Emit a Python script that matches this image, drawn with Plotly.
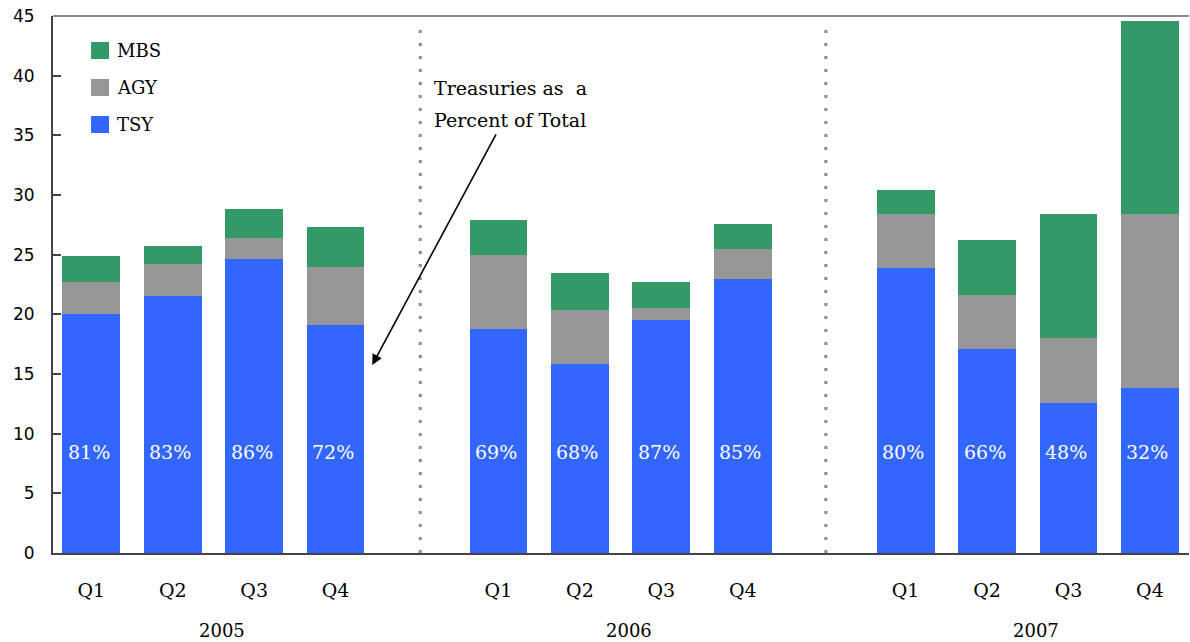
import plotly.graph_objects as go

# Quarterly purchases by security type, stacked (TSY at the bottom)
years = ["2005", "2006", "2007"]
quarters = ["Q1", "Q2", "Q3", "Q4"]
tsy = [20.0, 21.5, 24.6, 19.1, 18.75, 15.85, 19.5, 23.0, 23.9, 17.1, 12.55, 13.8]
agy = [2.75, 2.7, 1.8, 4.9, 6.25, 4.55, 1.05, 2.5, 4.55, 4.5, 5.45, 14.65]
mbs = [2.15, 1.5, 2.4, 3.3, 2.9, 3.1, 2.2, 2.05, 2.0, 4.6, 10.45, 16.1]
tsy_share = ["81%", "83%", "86%", "72%", "69%", "68%", "87%", "85%",
             "80%", "66%", "48%", "32%"]
series_names = ["TSY", "AGY", "MBS"]
series_colors = ["#3366FF", "#969696", "#339966"]
y_ticks = [0, 5, 10, 15, 20, 25, 30, 35, 40, 45]

SERIF = "DejaVu Serif"
SANS = "DejaVu Sans"

# each year occupies five slots: four quarters plus an empty spacer
slots = [yi * 5 + qi for yi in range(len(years)) for qi in range(len(quarters))]
tick_labels = [q for _ in years for q in quarters]

fig = go.Figure()
for name, vals, color in zip(series_names, [tsy, agy, mbs], series_colors):
    fig.add_trace(go.Bar(
        x=slots, y=vals, name=name, width=0.71,
        marker=dict(color=color, line=dict(width=0)),
        showlegend=False, hoverinfo="y+name",
    ))

# share labels inside the TSY bars
for s, txt in zip(slots, tsy_share):
    fig.add_annotation(x=s - 0.03, y=8.5, xref="x", yref="y", text=txt,
                       showarrow=False, font=dict(family=SERIF, size=19, color="white"))

# year labels under each group
for yi, yr in enumerate(years):
    fig.add_annotation(x=yi * 5 + 1.6, y=-0.1434, xref="x", yref="paper", text=yr,
                       showarrow=False, yanchor="middle",
                       font=dict(family=SERIF, size=18, color="black"))

# dotted separators between years
for sx in [4.04, 9.02]:
    fig.add_shape(type="line", xref="x", yref="paper", x0=sx, x1=sx, y0=0, y1=0.99,
                  line=dict(color="#8c8c8c", width=3, dash="3px,10px"))

# frame: top and right edges
fig.add_shape(type="line", xref="paper", yref="paper", x0=0, x1=1, y0=1, y1=1,
              line=dict(color="#8a8a8a", width=2))
fig.add_shape(type="line", xref="paper", yref="paper", x0=1, x1=1, y0=0, y1=1,
              line=dict(color="#e4e4e4", width=1))

# legend (MBS on top)
leg_y = [(0.9516, 0.9199), (0.8827, 0.8510), (0.8138, 0.7821)]
for (y1, y0), name, color in zip(leg_y, series_names[::-1], series_colors[::-1]):
    fig.add_shape(type="rect", xref="paper", yref="paper", x0=0.0335, x1=0.0493,
                  y0=y0, y1=y1, fillcolor=color, line=dict(width=0))
    fig.add_annotation(x=0.0546, y=(y0 + y1) / 2, xref="paper", yref="paper",
                       text=name, showarrow=False, xanchor="left", yanchor="middle",
                       font=dict(family=SERIF, size=18, color="black"))

# callout with arrow to the 2005 Q4 bar
fig.add_annotation(x=4.19, y=38.98, xref="x", yref="y", text="Treasuries as&nbsp;&nbsp;a",
                   showarrow=False, xanchor="left", yanchor="middle",
                   font=dict(family=SERIF, size=19, color="black"))
fig.add_annotation(x=4.19, y=36.3, xref="x", yref="y", text="Percent of Total",
                   showarrow=False, xanchor="left", yanchor="middle",
                   font=dict(family=SERIF, size=19, color="black"))
fig.add_annotation(x=3.45, y=15.76, xref="x", yref="y", ax=4.98, ay=35.2,
                   axref="x", ayref="y", text="", showarrow=True,
                   arrowhead=2, arrowsize=1.3, arrowwidth=1.6, arrowcolor="black")

fig.update_layout(
    barmode="stack",
    width=1190, height=642,
    margin=dict(l=53, r=1, t=16, b=89),
    paper_bgcolor="white", plot_bgcolor="white",
    xaxis=dict(
        range=[-0.47, 13.48], tickvals=slots, ticktext=tick_labels,
        showgrid=False, zeroline=False, showline=True, linecolor="#444444",
        linewidth=2, ticks="", ticklabelstandoff=19,
        tickfont=dict(family=SERIF, size=19, color="black"),
    ),
    yaxis=dict(
        range=[0, 45], tickvals=y_ticks, showgrid=False, zeroline=False,
        showline=True, linecolor="#444444", linewidth=2,
        ticks="inside", ticklen=8, tickwidth=2, tickcolor="#444444",
        ticklabelstandoff=13,
        tickfont=dict(family=SANS, size=17, color="black"),
    ),
)

fig.write_html("out.html")
